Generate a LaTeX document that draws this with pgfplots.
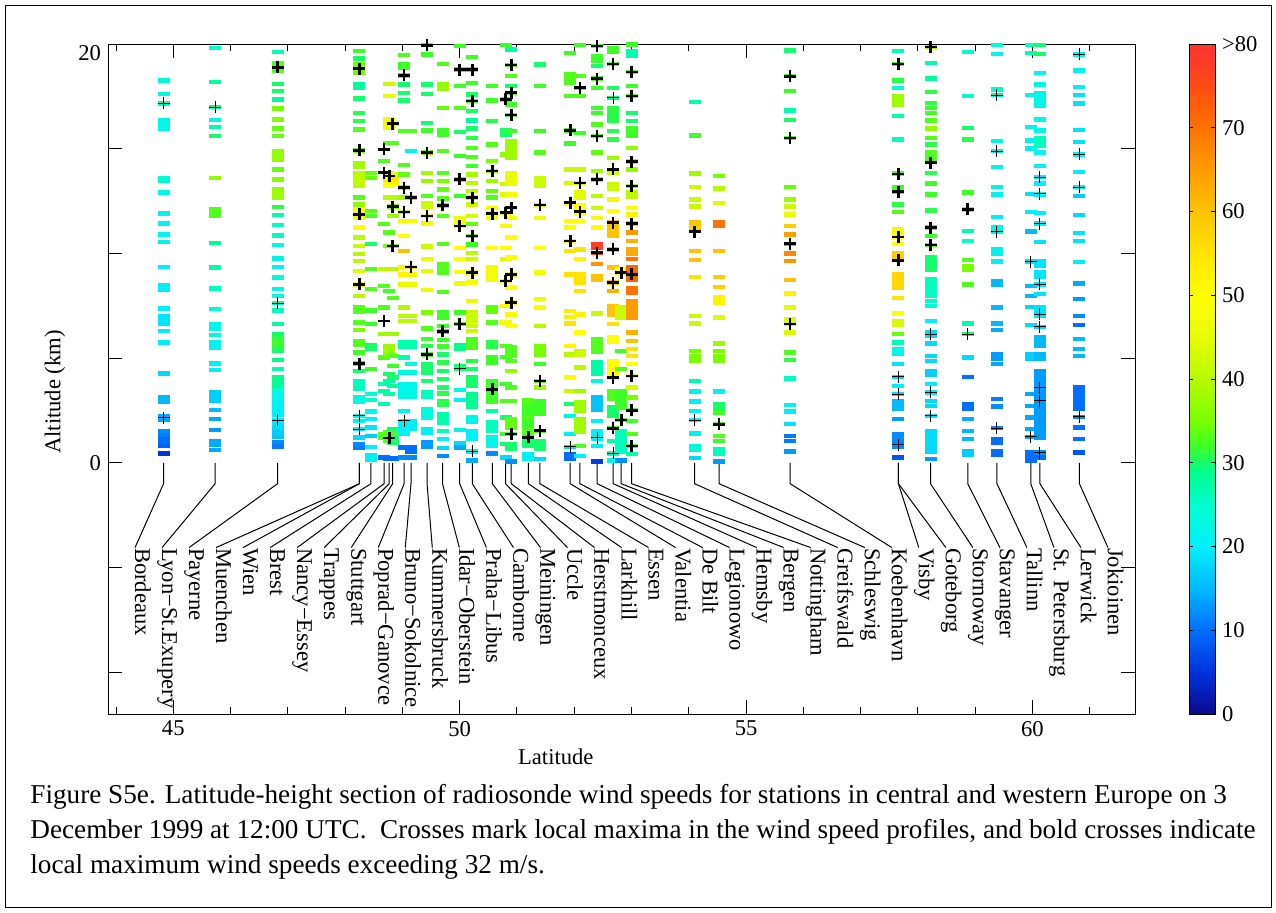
\documentclass[border=0pt]{standalone}
\usepackage{fontspec}
\setmainfont{Liberation Serif}
\usepackage{pgfplots}
\pgfplotsset{compat=1.18}
\pgfdeclareplotmark{wdash}{\pgfpathrectangle{\pgfpoint{-3pt}{-1.1pt}}{\pgfpoint{6pt}{2.2pt}}\pgfusepathqfill}
\newcommand\lblfont{\fontsize{11.3}{13}\selectfont}
\pgfplotsset{
  colormap={wind}{rgb255(0pt)=(10,10,140) rgb255(5pt)=(0,50,220) rgb255(10pt)=(0,110,255) rgb255(15pt)=(0,185,255) rgb255(20pt)=(0,240,250) rgb255(25pt)=(0,255,205) rgb255(29pt)=(0,255,140) rgb255(32pt)=(60,255,40) rgb255(35pt)=(120,255,0) rgb255(40pt)=(185,250,0) rgb255(45pt)=(230,252,0) rgb255(50pt)=(255,255,0) rgb255(55pt)=(255,228,0) rgb255(60pt)=(255,195,0) rgb255(70pt)=(255,115,0) rgb255(75pt)=(255,75,20) rgb255(80pt)=(255,50,50)},
  wd/.style={scatter, only marks, mark=wdash, point meta=explicit, scatter/use mapped color={draw=mapped color,fill=mapped color}},
}
\newcommand\lead[3]{\draw[line width=0.5pt] (axis cs:#1,0) -- (axis cs:#1,-1) -- (axis cs:#2,-4.05) node[rotate=-90,anchor=base west,inner sep=0pt,font=\lblfont] {#3};}
\begin{document}
\begin{tikzpicture}
\useasboundingbox (0,0) rectangle (638pt,-456pt);
\draw[line width=0.5pt] (2.5pt,-2.5pt) rectangle (635.5pt,-453.5pt);
\begin{axis}[
  at={(54pt,-357pt)}, anchor=south west,
  scale only axis, width=513.5pt, height=335pt,
  xmin=43.86, xmax=61.79, ymin=-12, ymax=20,
  xtick={45,50,55,60}, xticklabels={45,50,55,60},
  minor xtick={44,46,47,48,49,51,52,53,54,56,57,58,59,61},
  ytick={-10,-5,0,5,10,15,20}, yticklabels={,,0,,,,\raisebox{-8pt}[0pt][0pt]{20}},
  tick align=inside, major tick length=7pt, minor tick length=3.5pt,
  tick style={black, line width=0.5pt},
  axis line style={line width=0.5pt},
  tick label style={font=\lblfont},
  colormap name=wind, point meta min=0, point meta max=80,
  colorbar,
  colorbar style={
    at={(parent axis.north east)}, anchor=north west, xshift=18.5pt,
    width=13pt,
    ytick={0,10,20,30,40,50,60,70,80},
    yticklabels={0,10,20,30,40,50,60,70,>80},
    yticklabel style={font=\lblfont},
    major tick length=2pt,
    axis line style={line width=0.5pt},
  },
  clip=false,
]
% Bordeaux
\addplot[wd] table[x expr=44.83,y=a,meta=s] {
a s
18.26 24
17.62 24
17.16 26
16.35 22
16.15 22
15.95 22
13.61 24
13.45 24
12.90 22
11.91 21
11.42 21
10.91 21
10.54 21
9.35 20
8.48 20
8.28 20
7.36 20
7.01 19
6.81 19
6.62 19
6.30 20
5.74 20
4.26 18
3.12 15
2.92 15
2.24 14
2.04 14
1.53 12
1.33 11
1.13 10
0.93 10
0.81 9
0.45 5
};
% Lyon
\addplot[wd] table[x expr=45.73,y=a,meta=s] {
a s
19.82 25
18.19 28
16.98 28
16.36 23
16.03 27
15.60 30
13.61 37
12.10 33
11.94 33
11.78 33
10.51 29
9.32 27
8.33 26
7.33 25
6.62 22
6.42 22
6.10 22
5.74 21
5.50 21
4.74 21
4.42 21
3.36 17
3.16 17
2.96 17
2.53 15
2.08 14
1.56 13
1.05 14
0.85 14
0.60 14
};
% Payerne
\addplot[wd] table[x expr=46.82,y=a,meta=s] {
a s
19.61 26
19.10 33
18.90 33
18.70 33
18.10 30
17.75 30
17.35 28
16.92 35
16.40 36
15.97 34
15.60 34
14.89 37
14.69 37
14.49 37
14.01 34
13.53 36
13.06 38
12.86 38
12.66 38
12.21 31
11.83 27
11.35 26
10.85 26
10.40 23
9.76 22
9.35 21
8.84 24
8.29 23
7.97 24
7.62 26
7.28 26
6.62 28
6.14 30
5.94 31
5.74 32
5.54 31
5.34 30
4.90 29
4.47 27
4.07 29
3.87 29
3.67 28
3.47 25
3.28 22
3.08 22
2.88 21
2.68 21
2.48 20
2.28 20
2.04 20
1.84 19
1.64 18
1.44 17
1.24 16
0.97 12
0.77 11
};
% Muenchen / Wien
\addplot[wd] table[x expr=48.25,y=a,meta=s] {
a s
19.66 32
19.31 30
19.02 35
18.82 35
18.62 34
18.10 28
17.91 28
17.40 30
16.71 31
16.32 31
15.92 33
14.92 35
14.33 38
14.13 38
13.85 40
13.65 40
13.45 41
13.25 40
12.66 33
12.34 37
12.10 48
11.90 48
11.70 47
11.23 50
10.75 40
10.35 42
9.96 40
9.64 40
9.16 44
8.52 46
7.97 40
7.41 33
7.21 33
6.70 33
6.33 35
5.82 33
5.62 33
5.26 32
4.74 33
4.39 30
3.91 26
3.71 26
3.51 26
3.12 23
2.92 23
2.24 22
2.00 21
1.61 20
1.21 18
0.89 12
0.70 11
};
% Brest
\addplot[wd] table[x expr=48.45,y=a,meta=s] {
a s
13.85 34
13.61 34
12.02 33
11.78 33
10.46 30
9.24 33
8.29 33
7.28 32
6.62 32
5.63 30
5.42 30
4.47 32
3.28 24
2.99 25
2.45 22
2.08 20
1.69 19
1.29 17
0.76 20
0.35 20
0.15 20
};
% Nancy
\addplot[wd] table[x expr=48.68,y=a,meta=s] {
a s
14.41 33
11.39 33
9.24 40
8.44 33
7.41 33
6.14 38
5.03 33
3.75 27
3.44 28
2.80 27
1.37 33
1.17 33
0.25 10
};
% Trappes
\addplot[wd] table[x expr=48.77,y=a,meta=s] {
a s
18.10 42
17.51 45
16.40 48
16.20 48
16.00 47
15.28 33
13.85 45
13.65 50
13.45 52
13.25 50
12.66 40
10.99 33
10.35 35
8.21 32
5.58 38
5.38 38
5.18 36
4.23 30
3.91 28
3.28 27
1.45 33
1.25 33
1.05 33
0.20 10
};
% Stuttgart
\addplot[wd] table[x expr=48.83,y=a,meta=s] {
a s
16.19 45
15.28 33
13.77 46
13.57 55
13.37 52
12.66 40
12.23 35
11.78 38
10.35 35
9.24 40
7.86 33
6.14 38
5.10 33
4.63 32
4.07 30
3.67 28
1.61 30
1.41 33
1.21 30
0.97 30
0.20 10
};
% Poprad
\addplot[wd] table[x expr=49.03,y=a,meta=s] {
a s
19.47 33
19.02 32
18.86 32
18.50 33
18.07 30
17.67 30
17.30 30
15.84 33
14.22 33
13.77 34
13.14 35
12.66 38
11.98 42
11.55 48
10.83 50
10.11 60
9.35 52
9.00 52
8.52 45
7.41 40
7.01 40
6.77 40
5.74 27
5.54 27
5.03 26
4.31 23
3.75 22
3.55 22
3.35 22
3.15 22
2.48 22
2.00 20
1.80 20
1.60 20
1.40 20
0.73 10
0.25 12
};
% Brno
\addplot[wd] table[x expr=49.15,y=a,meta=s] {
a s
15.84 33
14.89 22
12.66 38
11.55 48
9.35 52
9.00 52
8.52 45
7.01 40
6.77 40
5.74 27
5.54 27
4.71 24
4.31 23
3.75 22
3.55 22
3.35 22
3.15 22
2.00 20
1.80 20
1.60 20
0.73 10
0.53 10
0.25 12
};
% Kummersbruck
\addplot[wd] table[x expr=49.43,y=a,meta=s] {
a s
19.94 33
19.50 32
18.07 30
17.62 30
16.24 30
15.87 32
14.81 35
13.85 38
13.45 37
12.74 33
12.42 42
12.22 42
11.78 48
11.42 48
10.32 42
9.72 45
9.16 45
8.24 46
7.17 35
6.42 33
5.90 32
5.58 31
5.18 33
4.71 30
4.51 30
4.31 30
3.91 30
3.36 26
3.16 26
2.56 23
2.36 23
2.16 23
1.61 20
1.41 20
0.97 13
0.77 13
};
% Idar-Oberstein
\addplot[wd] table[x expr=49.70,y=a,meta=s] {
a s
19.05 33
18.07 37
17.87 37
16.95 34
15.87 32
15.68 32
14.89 33
13.85 33
13.45 35
13.06 34
12.63 33
12.29 38
11.78 33
10.46 33
9.48 33
9.28 33
9.08 33
8.17 33
7.17 32
6.93 32
6.54 32
6.27 33
5.85 32
5.55 32
5.18 30
4.79 31
4.39 30
3.99 30
3.59 30
3.31 31
2.96 31
2.76 31
2.32 27
2.12 27
1.92 27
1.53 26
1.13 20
0.70 18
0.33 12
};
% Praha
\addplot[wd] table[x expr=50.00,y=a,meta=s] {
a s
19.90 32
18.78 33
17.99 32
16.95 33
15.81 30
14.65 32
13.53 35
12.74 32
11.70 48
11.50 48
11.31 48
10.27 50
9.72 50
9.11 48
8.56 47
7.17 32
6.62 34
5.61 29
5.42 29
4.63 30
4.50 30
3.47 22
2.99 20
1.56 22
0.92 18
0.73 14
};
% Camborne
\addplot[wd] table[x expr=50.22,y=a,meta=s] {
a s
19.37 32
18.78 33
18.15 32
17.59 30
17.27 33
16.79 30
16.35 28
15.97 30
15.52 31
15.04 33
14.60 33
14.17 32
13.77 38
13.37 40
12.98 40
12.66 42
12.34 42
11.78 43
11.39 34
10.83 34
10.43 32
10.03 40
9.72 42
9.08 45
8.60 48
7.73 47
7.17 42
6.97 42
6.77 42
6.54 42
6.30 42
5.90 33
5.70 33
5.50 33
4.87 31
4.47 30
4.07 30
3.87 30
3.67 30
3.28 29
3.08 29
2.88 29
2.68 29
2.16 22
1.96 22
1.53 20
1.33 20
1.13 20
0.54 20
0.10 14
};
% Meiningen
\addplot[wd] table[x expr=50.57,y=a,meta=s] {
a s
17.99 32
17.30 32
16.32 31
15.20 33
14.41 35
13.93 37
13.45 38
12.98 34
12.66 33
12.18 48
11.90 50
11.70 48
10.27 50
9.32 48
9.12 48
8.92 48
8.76 48
7.41 34
7.21 34
6.70 33
5.74 31
5.54 31
5.03 32
4.79 32
3.91 32
3.71 32
3.51 33
3.31 32
3.11 32
2.91 32
2.48 28
1.92 26
1.72 26
1.52 26
1.21 22
1.01 22
0.81 22
0.45 12
};
% Uccle
\addplot[wd] table[x expr=50.80,y=a,meta=s] {
a s
19.94 32
17.35 33
15.87 30
15.67 30
14.73 37
13.30 42
12.82 45
11.94 48
11.31 48
10.27 50
9.72 44
8.68 48
7.49 48
6.70 48
5.58 33
5.06 32
3.75 32
2.96 33
2.16 30
1.37 32
0.89 30
0.25 18
};
% Herstmonceux
\addplot[wd] table[x expr=50.90,y=a,meta=s] {
a s
19.74 27
18.99 33
18.46 33
17.99 30
17.67 33
17.11 32
16.60 33
15.84 32
15.36 38
15.16 38
14.96 38
14.76 38
14.56 38
13.85 46
13.65 46
13.45 46
13.30 46
12.82 48
12.18 50
11.70 48
10.75 50
9.80 49
9.00 48
8.37 50
7.65 50
7.09 48
6.54 50
5.50 33
5.30 33
5.10 33
4.87 33
4.39 37
3.59 33
2.96 33
2.08 34
1.88 34
1.69 34
1.37 33
0.89 30
0.69 30
0.06 12
};
% Larkhill
\addplot[wd] table[x expr=51.20,y=a,meta=s] {
a s
3.00 33
2.80 33
2.60 32
2.40 32
2.20 33
2.00 32
1.80 32
1.60 33
1.40 33
1.20 32
1.00 30
0.80 30
0.41 20
0.21 20
};
% Essen
\addplot[wd] table[x expr=51.40,y=a,meta=s] {
a s
19.02 30
17.99 32
15.84 32
14.81 33
13.61 42
13.41 42
13.21 42
12.31 44
11.70 48
10.27 50
9.08 48
7.81 47
7.41 48
6.54 40
5.58 35
5.38 35
5.18 35
4.71 32
3.91 35
3.59 38
2.96 32
2.76 32
2.56 32
2.36 32
1.53 33
1.05 30
0.85 30
0.65 30
0.17 18
};
% Valentia
\addplot[wd] table[x expr=51.93,y=a,meta=s] {
a s
19.58 32
18.54 33
18.34 33
18.14 33
17.51 33
15.87 33
15.24 32
14.01 42
13.37 43
12.42 48
11.55 50
11.23 50
10.59 52
10.11 55
9.00 55
7.25 53
6.97 53
6.65 55
5.58 52
5.18 40
4.07 50
3.44 42
2.80 30
2.24 22
1.37 20
0.76 18
0.41 10
0.21 10
};
% De Bilt
\addplot[wd] table[x expr=52.10,y=a,meta=s] {
a s
19.94 32
18.46 33
17.91 33
17.51 33
15.76 32
14.01 42
13.37 43
12.90 45
12.66 45
12.30 50
12.10 50
11.90 50
11.55 50
10.19 55
9.72 52
9.00 55
8.80 55
8.60 55
8.21 55
7.09 52
6.22 50
5.34 42
5.18 42
4.55 40
3.44 38
2.88 38
2.68 38
2.48 38
2.08 38
1.88 38
1.68 38
1.48 38
0.81 33
0.33 20
};
% Legionowo
\addplot[wd] table[x expr=52.40,y=a,meta=s] {
a s
19.90 33
19.42 32
19.22 32
18.94 30
18.35 33
17.91 32
16.95 32
16.71 32
16.16 33
15.60 33
14.81 34
13.93 38
13.53 38
12.74 40
12.18 42
11.70 48
11.23 50
10.46 78
10.26 78
10.03 76
9.48 66
8.92 60
8.72 60
7.12 42
5.90 33
5.70 33
5.50 33
5.30 33
4.79 27
4.59 27
4.39 27
4.23 27
3.91 23
3.12 16
2.92 16
2.72 16
2.52 16
2.00 20
1.53 20
1.33 20
1.13 20
0.81 20
0.06 6
};
% Hemsby
\addplot[wd] table[x expr=52.68,y=a,meta=s] {
a s
19.82 32
19.62 32
19.05 33
17.91 30
17.43 28
16.95 31
16.75 31
16.55 31
16.35 31
15.84 31
15.44 31
14.57 38
13.85 42
13.30 42
13.10 42
12.58 47
12.02 50
11.47 60
11.23 60
11.03 60
10.83 60
10.19 60
9.32 60
8.60 60
8.21 62
7.49 60
7.29 60
7.09 60
6.62 55
5.98 50
5.78 50
4.87 50
4.67 50
4.47 50
4.27 50
4.07 50
3.44 33
3.24 33
3.04 33
2.64 30
2.44 30
2.24 30
1.65 32
1.05 28
0.45 26
0.10 22
};
% Bergen
\addplot[wd] table[x expr=52.82,y=a,meta=s] {
a s
9.24 50
9.04 50
7.41 42
7.17 42
6.93 42
5.34 32
4.47 33
3.44 32
3.24 32
3.04 32
2.84 32
2.64 32
2.04 33
1.53 26
1.33 26
1.13 26
0.93 26
0.73 26
0.53 26
0.10 12
};
% Nottingham
\addplot[wd] table[x expr=53.00,y=a,meta=s] {
a s
19.97 32
19.66 27
19.46 27
18.67 33
17.99 32
17.51 33
16.71 30
16.32 30
16.00 32
15.80 32
15.60 32
15.04 37
14.38 38
14.01 37
13.22 38
12.90 40
12.70 40
12.18 50
11.86 52
11.42 60
10.99 65
10.59 62
10.19 63
9.99 63
9.72 70
9.32 72
9.12 72
8.92 72
8.72 72
8.33 70
8.13 70
7.73 65
7.53 65
7.33 65
7.13 65
6.93 65
6.22 62
5.82 60
5.42 55
5.10 55
4.71 50
4.15 48
3.59 43
3.12 35
2.51 34
2.00 32
1.37 33
0.81 33
0.41 27
};
% Greifswald
\addplot[wd] table[x expr=54.10,y=a,meta=s] {
a s
17.22 27
15.63 32
13.82 38
13.17 42
12.58 42
12.23 42
11.47 60
11.27 58
11.07 58
10.11 60
9.67 60
8.87 55
7.01 42
6.65 42
5.34 35
5.08 35
4.88 35
3.91 27
3.40 22
2.93 20
2.48 21
2.04 20
1.40 21
0.81 24
0.61 24
0.22 18
};
% Schleswig
\addplot[wd] table[x expr=54.53,y=a,meta=s] {
a s
13.69 35
13.09 40
12.42 44
11.51 70
11.31 70
10.11 60
8.87 58
8.40 58
7.89 52
7.65 52
6.93 44
5.69 38
5.34 35
5.08 35
4.88 35
3.40 22
2.80 30
2.60 30
2.40 32
1.84 33
1.29 33
1.05 32
0.65 26
0.45 26
0.06 13
};
% Koebenhavn
\addplot[wd] table[x expr=55.77,y=a,meta=s] {
a s
19.69 30
18.46 33
17.75 32
16.83 27
16.38 30
15.52 33
13.17 34
12.58 38
12.23 42
11.86 45
11.31 58
10.91 65
10.46 66
9.99 68
9.64 66
8.72 60
8.08 52
7.41 45
6.85 44
6.62 43
6.22 44
5.26 33
4.90 31
4.02 26
2.75 20
2.45 20
1.84 19
1.29 11
1.05 11
0.54 13
};
% Visby / Goteborg
\addplot[wd] table[x expr=57.66,y=a,meta=s] {
a s
19.66 27
19.05 33
18.26 31
17.91 24
17.51 38
17.31 38
17.11 38
16.56 27
15.44 26
13.82 33
13.14 32
12.95 34
12.34 31
11.98 33
11.15 48
10.95 48
10.78 50
10.46 50
9.99 58
9.79 58
9.67 58
9.00 57
8.80 57
8.60 57
8.37 57
7.86 55
7.12 50
6.78 43
6.58 43
6.14 34
5.74 27
5.42 22
5.22 22
4.71 19
4.10 18
3.67 20
3.28 18
2.96 15
2.76 15
2.56 15
2.08 13
1.37 12
1.17 12
0.97 12
0.77 12
0.25 8
};
% Stornoway
\addplot[wd] table[x expr=58.22,y=a,meta=s] {
a s
19.85 38
19.10 27
18.35 28
17.72 31
17.19 31
16.95 32
16.71 32
16.35 33
15.97 37
15.52 33
15.20 31
14.81 33
14.61 33
14.41 33
13.85 31
13.33 32
12.82 32
12.05 31
11.23 33
10.83 32
10.40 33
9.80 30
9.60 30
9.40 30
9.20 30
8.76 26
8.56 26
8.36 26
8.16 26
7.96 26
7.73 26
7.49 23
6.77 20
6.22 18
6.06 18
5.69 18
5.10 18
4.87 18
4.39 17
4.19 17
3.75 20
3.36 19
2.96 18
2.72 18
2.24 19
1.53 18
1.33 18
1.13 18
0.93 18
0.73 18
0.53 18
0.17 13
};
% Stavanger
\addplot[wd] table[x expr=58.87,y=a,meta=s] {
a s
19.61 25
17.51 25
16.00 30
15.44 31
12.90 32
12.10 37
11.07 27
10.59 26
9.67 33
9.40 35
9.20 35
8.52 33
6.65 27
6.14 30
5.03 18
4.10 10
2.80 10
2.60 10
2.08 14
1.53 15
1.13 15
0.57 17
0.37 17
};
% Tallinn
\addplot[wd] table[x expr=59.38,y=a,meta=s] {
a s
19.94 25
19.53 22
17.83 25
17.56 26
15.36 22
14.89 22
14.12 22
13.17 21
12.82 21
11.74 21
11.23 22
11.04 22
10.19 21
9.99 21
9.61 20
8.68 15
8.48 15
7.41 15
6.65 15
6.33 14
5.18 13
4.98 13
4.71 14
3.04 11
2.69 12
1.65 12
1.13 10
0.93 10
0.57 10
0.37 10
};
% St. Petersburg
\addplot[wd] table[x expr=59.97,y=a,meta=s] {
a s
19.94 26
19.58 26
17.56 22
16.03 21
15.39 21
15.01 21
12.85 19
11.99 20
11.04 15
9.61 19
8.44 15
7.97 15
7.44 18
6.58 18
5.18 17
4.98 17
3.28 14
2.72 14
2.16 14
1.61 14
1.24 14
0.49 10
0.29 10
0.09 10
};
% Lerwick
\addplot[wd] table[x expr=60.13,y=a,meta=s] {
a s
19.94 30
19.53 30
18.62 22
18.07 23
17.67 22
17.47 22
17.27 22
17.07 22
16.40 23
15.87 22
15.52 26
15.32 26
15.12 26
14.81 22
14.17 20
13.64 20
13.33 20
12.82 20
11.94 20
11.42 20
10.54 19
9.61 19
9.41 19
9.08 19
8.88 19
8.52 19
8.05 19
7.41 19
7.21 19
7.01 19
6.49 18
5.98 15
5.78 15
5.58 15
5.18 15
4.98 15
4.39 13
4.19 13
3.99 13
3.79 13
3.59 13
3.39 13
3.19 13
2.99 13
2.79 13
2.59 13
2.39 13
2.19 13
1.99 13
1.79 13
1.59 13
1.39 13
1.19 13
0.49 12
0.25 10
};
% Jokioinen
\addplot[wd] table[x expr=60.82,y=a,meta=s] {
a s
19.50 22
18.73 21
17.94 20
17.56 19
17.16 19
15.89 19
15.33 19
14.73 20
13.88 20
13.17 20
12.74 17
11.83 18
10.96 19
10.59 19
9.59 20
8.56 14
7.81 13
7.01 12
6.58 10
5.90 15
5.42 15
5.10 15
3.59 10
3.39 10
3.19 10
2.99 10
2.79 10
2.59 10
2.19 12
1.69 10
1.13 10
0.49 8
};
% local maxima, normal crosses
\addplot[only marks, mark=+, mark size=3pt, black, mark options={line width=0.5pt}] coordinates {
(44.83,17.16) (44.83,2.16) (45.73,16.98) (46.82,7.62) (46.82,2.04) (48.25,2.24) (48.25,1.61) (49.03,2.00) (50.00,4.50) (50.22,0.54) (51.93,0.76) (52.40,1.20) (52.68,17.43) (52.68,0.45) (54.10,2.04) (57.66,4.10) (57.66,3.28) (57.66,0.86) (58.22,6.14) (58.22,3.36) (58.22,2.24) (58.87,6.14) (59.38,17.56) (59.38,14.89) (59.38,11.04) (59.38,1.65) (59.97,9.61) (59.97,1.24) (60.13,13.64) (60.13,12.85) (60.13,11.42) (60.13,8.52) (60.13,7.09) (60.13,6.49) (60.13,3.59) (60.13,2.96) (60.13,0.49) (60.82,19.50) (60.82,14.73) (60.82,13.17) (60.82,2.19)
};
% local maxima above 32 m/s, bold crosses
\addplot[only marks, mark=+, mark size=3pt, black, mark options={line width=1.3pt}] coordinates {
(46.82,18.89) (48.25,18.83) (48.25,14.92) (48.25,11.86) (48.25,8.52) (48.25,4.74) (48.68,14.97) (48.68,13.85) (48.68,6.77) (48.77,13.69) (48.77,1.18) (48.83,16.19) (48.83,12.23) (48.83,10.35) (49.03,18.50) (49.03,13.14) (49.03,11.98) (49.15,12.66) (49.15,9.35) (49.43,19.94) (49.43,14.81) (49.43,11.78) (49.43,5.18) (49.70,12.29) (49.70,6.27) (50.00,18.78) (50.00,13.53) (50.00,11.31) (50.00,6.62) (50.22,18.78) (50.22,17.27) (50.22,12.66) (50.22,10.83) (50.22,9.08) (50.57,13.93) (50.57,11.90) (50.57,3.51) (50.80,17.35) (50.80,11.94) (50.80,8.68) (50.90,18.99) (50.90,17.67) (50.90,16.60) (50.90,12.18) (50.90,9.00) (50.90,7.65) (50.90,1.37) (51.20,1.21) (51.40,12.31) (51.40,3.91) (51.40,1.53) (51.93,15.87) (51.93,12.42) (51.93,10.59) (52.10,17.91) (52.10,13.37) (52.10,11.99) (52.40,19.90) (52.40,18.35) (52.40,15.60) (52.40,13.53) (52.40,10.03) (52.68,19.05) (52.68,14.01) (52.68,11.47) (52.68,10.19) (52.68,8.60) (52.68,4.07) (52.68,1.65) (52.82,9.08) (52.82,2.04) (53.00,18.67) (53.00,17.51) (53.00,14.38) (53.00,13.22) (53.00,11.42) (53.00,9.00) (53.00,4.15) (53.00,2.51) (53.00,0.81) (54.10,11.04) (54.53,1.84) (55.77,18.46) (55.77,15.52) (55.77,10.46) (55.77,6.62) (57.66,19.05) (57.66,13.80) (57.66,12.95) (57.66,10.78) (57.66,9.67) (58.22,19.85) (58.22,14.33) (58.22,11.23) (58.22,10.40) (58.87,12.10)
};
% station labels with leader lines
\lead{44.83}{44.332}{Bordeaux}
\lead{45.73}{44.804}{Lyon−St.Exupery}
\lead{46.82}{45.276}{Payerne}
\lead{48.25}{45.747}{Muenchen}
\lead{48.25}{46.219}{Wien}
\lead{48.45}{46.691}{Brest}
\lead{48.68}{47.163}{Nancy−Essey}
\lead{48.77}{47.635}{Trappes}
\lead{48.83}{48.107}{Stuttgart}
\lead{49.03}{48.579}{Poprad−Ganovce}
\lead{49.15}{49.050}{Bruno−Sokolnice}
\lead{49.43}{49.522}{Kummersbruck}
\lead{49.70}{49.994}{Idar−Oberstein}
\lead{50.00}{50.466}{Praha−Libus}
\lead{50.22}{50.938}{Camborne}
\lead{50.57}{51.410}{Meiningen}
\lead{50.80}{51.881}{Uccle}
\lead{50.90}{52.353}{Herstmonceux}
\lead{51.20}{52.825}{Larkhill}
\lead{51.40}{53.297}{Essen}
\lead{51.93}{53.769}{Valentia}
\lead{52.10}{54.241}{De Bilt}
\lead{52.40}{54.712}{Legionowo}
\lead{52.68}{55.184}{Hemsby}
\lead{52.82}{55.656}{Bergen}
\lead{53.00}{56.128}{Nottingham}
\lead{54.10}{56.600}{Greifswald}
\lead{54.53}{57.072}{Schleswig}
\lead{55.77}{57.544}{Koebenhavn}
\lead{57.66}{58.015}{Visby}
\lead{57.66}{58.487}{Goteborg}
\lead{58.22}{58.959}{Stornoway}
\lead{58.87}{59.431}{Stavanger}
\lead{59.38}{59.903}{Tallinn}
\lead{59.97}{60.375}{St. Petersburg}
\lead{60.13}{60.846}{Lerwick}
\lead{60.82}{61.318}{Jokioinen}
\node[font=\lblfont] at (rel axis cs:0.436,-0.064) {Latitude};
\node[font=\lblfont, rotate=90] at (rel axis cs:-0.0516,0.4806) {Altitude (km)};
\end{axis}
\node[anchor=base west, inner sep=0pt, font=\fontsize{13.6}{17.5}\selectfont] at (15pt,-401.5pt) {Figure S5e. Latitude-height section of radiosonde wind speeds for stations in central and western Europe on 3};
\node[anchor=base west, inner sep=0pt, font=\fontsize{13.6}{17.5}\selectfont] at (15pt,-419pt) {December 1999 at 12:00 UTC.~ Crosses mark local maxima in the wind speed profiles, and bold crosses indicate};
\node[anchor=base west, inner sep=0pt, font=\fontsize{13.6}{17.5}\selectfont] at (15pt,-436.5pt) {local maximum wind speeds exceeding 32 m/s.};
\end{tikzpicture}
\end{document}
